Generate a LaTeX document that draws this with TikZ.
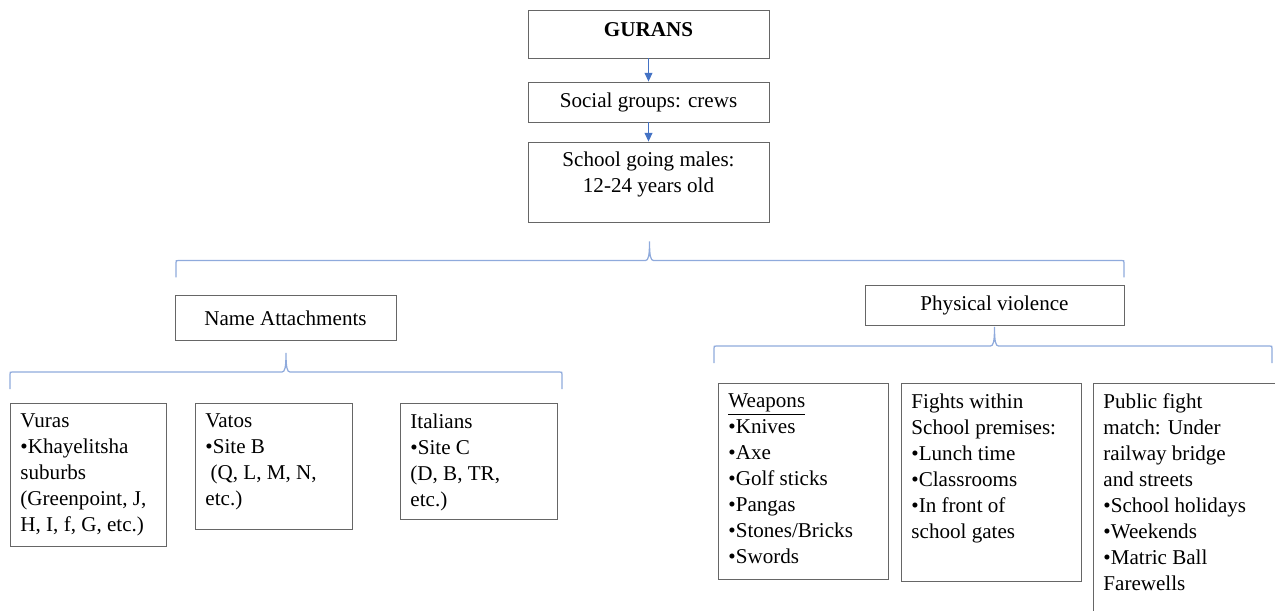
\documentclass[tikz,border=0pt]{standalone}
\usepackage{fontspec}
\setmainfont{Liberation Serif}
\usetikzlibrary{arrows.meta}
\definecolor{arrowblue}{RGB}{68,114,196}
\definecolor{braceblue}{RGB}{143,170,220}
% texto alineado arriba dentro de una caja de alto fijo
\newcommand{\boxtext}[3]{\parbox[c][#2][t]{#1}{\raggedright #3}}
% llave: #1 izquierda, #2 punta, #3 derecha, #4 altura de la linea
\newcommand{\curlybrace}[4]{%
  \draw[curly] (#1,#4+17) -- (#1,#4+2.5) .. controls (#1,#4) .. (#1+2.5,#4)
    -- (#2-4,#4) .. controls (#2-1,#4) and (#2,#4-5) .. (#2,#4-19)
    .. controls (#2,#4-5) and (#2+1,#4) .. (#2+4,#4)
    -- (#3-2.5,#4) .. controls (#3,#4) .. (#3,#4+2.5) -- (#3,#4+17);}

\begin{document}
\begin{tikzpicture}[x=0.02cm, y=-0.02cm,
    font=\fontsize{12}{14.8}\selectfont,
    box/.style={draw=black!60, line width=0.5pt, inner sep=0.2cm},
    topbox/.style={box, minimum width=4.82cm},
    listbox/.style={box, anchor=north west},
    link/.style={draw=arrowblue, line width=0.6pt, -{Triangle[length=5pt,width=4.5pt]}},
    curly/.style={draw=braceblue, line width=0.7pt}]

    \useasboundingbox (0,0) rectangle (1275,611);

    % Columna central
    \node[topbox, minimum height=0.96cm, text depth=0.16cm] (gurans) at (648.5,34) {\textbf{GURANS}};
    \node[topbox, minimum height=0.8cm] (social) at (648.5,102) {Social groups: crews};
    \node[topbox] (males) at (648.5,182) {\boxtext{4.4cm}{1.2cm}{\centering School going males:\\12-24 years old}};

    \draw[link] (gurans) -- (social);
    \draw[link] (social) -- (males);

    % Llave principal
    \curlybrace{176}{649.5}{1124}{260.5}

    % Ramas
    \node[box, minimum width=4.42cm, minimum height=0.9cm] (names) at (285.5,318) {Name Attachments};
    \node[box, minimum width=5.18cm, minimum height=0.8cm] (violence) at (994.5,305) {Physical violence};

    \curlybrace{10}{286}{562}{372}
    \curlybrace{714}{994.5}{1272}{346}

    % Grupos
    \node[listbox] (vuras) at (10,403) {\boxtext{2.72cm}{2.46cm}{Vuras\\\textbullet Khayelitsha\\suburbs\\(Greenpoint, J,\\H, I, f, G, etc.)}};
    \node[listbox] (vatos) at (195,403) {\boxtext{2.74cm}{2.12cm}{Vatos\\\textbullet Site B\\~(Q, L, M, N,\\etc.)}};
    \node[listbox] (italians) at (400,403) {\boxtext{2.74cm}{1.92cm}{Italians\\\textbullet Site C\\(D, B, TR,\\etc.)}};

    % Violencia
    \node[listbox] (weapons) at (718,383) {\boxtext{3.0cm}{3.52cm}{\underline{Weapons}\\\textbullet Knives\\\textbullet Axe\\\textbullet Golf sticks\\\textbullet Pangas\\\textbullet Stones/Bricks\\\textbullet Swords}};
    \node[listbox] (fights) at (901,383) {\boxtext{3.2cm}{3.56cm}{Fights within\\School premises:\\\textbullet Lunch time\\\textbullet Classrooms\\\textbullet In front of\\school gates}};
    \node[listbox] (public) at (1093,383) {\boxtext{3.44cm}{4.44cm}{Public fight\\match: Under\\railway bridge\\and streets\\\textbullet School holidays\\\textbullet Weekends\\\textbullet Matric Ball\\Farewells}};
\end{tikzpicture}
\end{document}
